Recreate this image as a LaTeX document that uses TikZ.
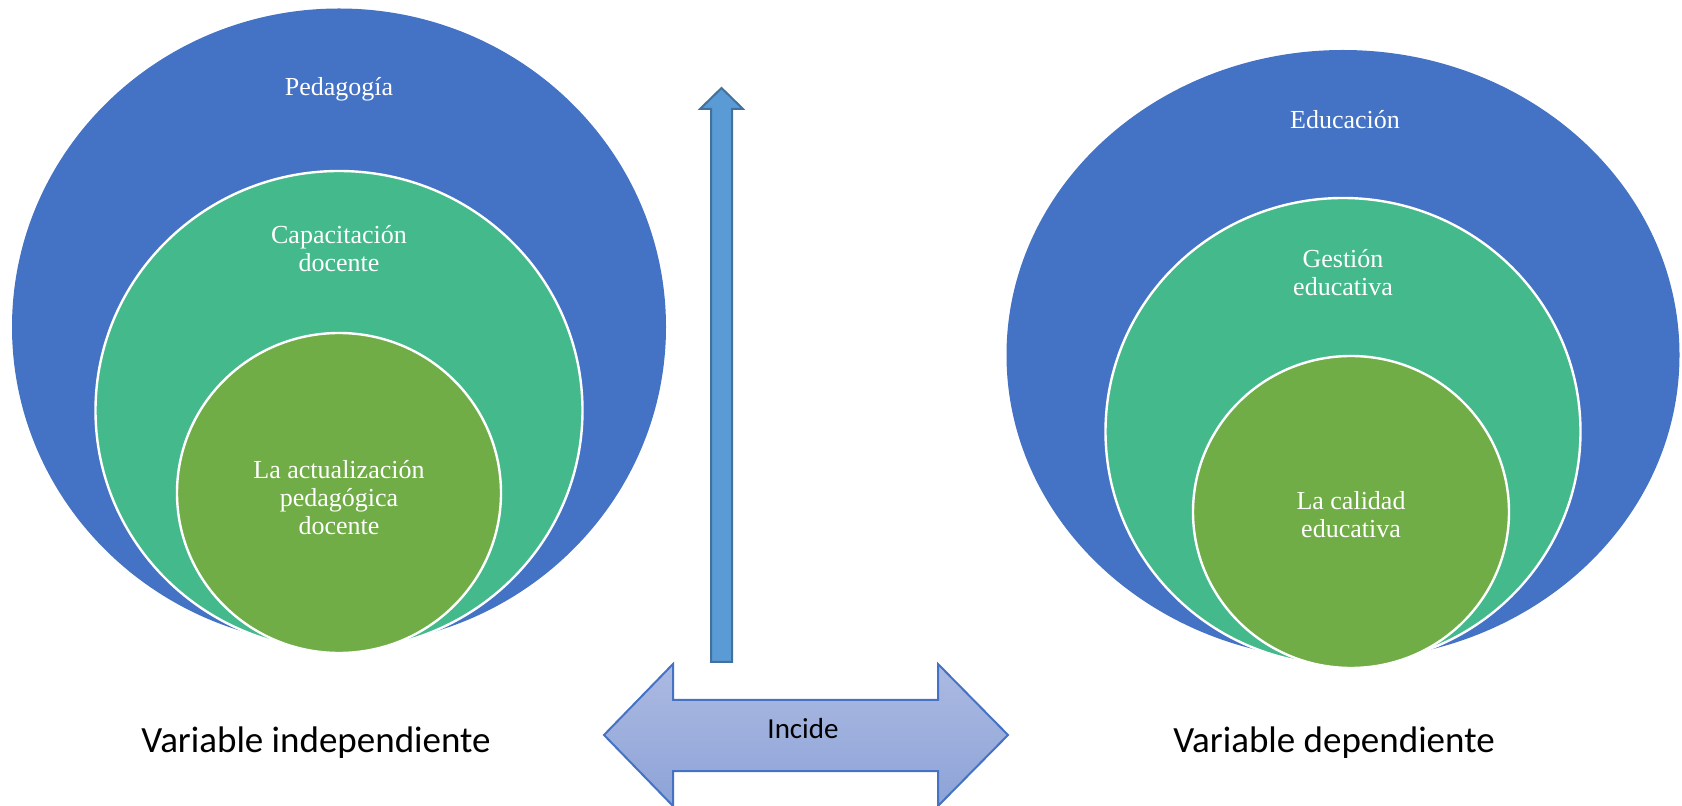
\documentclass[tikz,border=0pt]{standalone}
\usepackage{fontspec}
\setmainfont{Liberation Serif}
\newfontfamily\calibri{Carlito}
\usetikzlibrary{shapes.geometric}
\definecolor{blueA}{HTML}{4472C4}
\definecolor{tealA}{HTML}{44BA8C}
\definecolor{greenA}{HTML}{70AD47}
\definecolor{arrowfill}{HTML}{5B9BD5}
\definecolor{arrowdraw}{HTML}{41719C}
\definecolor{dtop}{HTML}{ACBAE2}
\definecolor{dbot}{HTML}{8DA3D7}
\tikzset{
  outer/.style={ellipse, fill=blueA, inner sep=0pt},
  middle/.style={ellipse, fill=tealA, draw=white, line width=1.2pt, inner sep=0pt},
  inner/.style={ellipse, fill=greenA, draw=white, line width=1.2pt, inner sep=0pt},
  intext/.style={text=white, align=center, font=\fontsize{13}{14}\selectfont},
  varlabel/.style={font=\calibri\fontsize{18.5}{22}\selectfont, text=black},
}
\begin{document}
\begin{tikzpicture}[x=0.5pt,y=-0.5pt]
\useasboundingbox (0,0) rectangle (1682,806);
% left set
\node[outer, minimum width=327pt, minimum height=318.5pt] (lo) at (339,327) {};
\node[middle, minimum width=243.5pt, minimum height=239.5pt] (lm) at (339,410.5) {};
\node[inner, minimum width=162pt, minimum height=160pt] (li) at (339,493) {};
\node[intext] (tlo) at (339,89) {Pedagogía};
\node[intext] (tlm) at (339,249) {Capacitación\\docente};
\node[intext] (tli) at (339,498) {La actualización\\pedagógica\\docente};
% right set
\node[outer, minimum width=336.5pt, minimum height=305pt] (ro) at (1343,355) {};
\node[middle, minimum width=237.5pt, minimum height=233.5pt] (rm) at (1343,431.5) {};
\node[inner, minimum width=158pt, minimum height=156pt] (ri) at (1351,512) {};
\node[intext] (tro) at (1345,120) {Educación};
\node[intext] (trm) at (1343,273) {Gestión\\educativa};
\node[intext] (tri) at (1351,515) {La calidad\\educativa};
% vertical block arrow
\draw[fill=arrowfill, draw=arrowdraw, line width=1pt, line join=miter]
  (711,662) -- (711,109) -- (700,109) -- (721.5,88) -- (743,109) -- (732,109) -- (732,662) -- cycle;
% double block arrow
\draw[top color=dtop, bottom color=dbot, draw=blueA, line width=1pt, line join=miter]
  (604,735) -- (673,664) -- (673,700) -- (938,700) -- (938,664) -- (1008,735)
  -- (938,806) -- (938,771) -- (673,771) -- (673,806) -- cycle;
\node[font=\calibri\fontsize{14.5}{17}\selectfont, text=black] (inc) at (803,729) {Incide};
% labels
\node[varlabel] (vi) at (316,743) {Variable independiente};
\node[varlabel] (vd) at (1334,743) {Variable dependiente};
\end{tikzpicture}
\end{document}
